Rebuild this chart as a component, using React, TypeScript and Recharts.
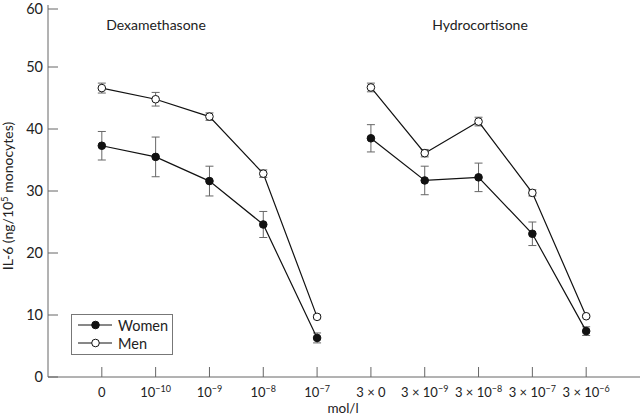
import { LineChart, Line, XAxis, YAxis, ErrorBar, Legend, Customized } from "recharts";

// concentration positions on the x axis (0-4 dexamethasone, 5-9 hydrocortisone)
const tickBase = ["0", "10", "10", "10", "10", "3 × 0", "3 × 10", "3 × 10", "3 × 10", "3 × 10"];
const tickExp = ["", "−10", "−9", "−8", "−7", "", "−9", "−8", "−7", "−6"];
const dexX = [0, 1, 2, 3, 4];
const hydX = [5, 6, 7, 8, 9];

const womenDex = [37.3, 35.5, 31.6, 24.6, 6.3];
const womenDexErr = [2.3, 3.2, 2.4, 2.1, 0.8];
const menDex = [46.6, 44.8, 42.0, 32.8, 9.7];
const menDexErr = [0.8, 1.1, 0.6, 0.6, 0.3];

const womenHyd = [38.5, 31.7, 32.2, 23.1, 7.4];
const womenHydErr = [2.2, 2.3, 2.3, 1.9, 0.7];
const menHyd = [46.7, 36.1, 41.2, 29.7, 9.8];
const menHydErr = [0.7, 0.6, 0.7, 0.5, 0.2];

const yTicks = [0, 10, 20, 30, 40, 50, 60];

const dexData = dexX.map((x, i) => ({
  x,
  women: womenDex[i],
  womenErr: womenDexErr[i],
  men: menDex[i],
  menErr: menDexErr[i],
}));
const hydData = hydX.map((x, i) => ({
  x,
  women: womenHyd[i],
  womenErr: womenHydErr[i],
  men: menHyd[i],
  menErr: menHydErr[i],
}));

const FONT = "Lato, 'DejaVu Sans', sans-serif";
const AXIS = "#666";

function YTick({ x, y, payload }: any) {
  return (
    <g>
      <line x1={x + 5} x2={x + 15} y1={y} y2={y} stroke={AXIS} />
      <text x={x} y={y} dy={5} textAnchor="end" fontSize={14.5} fill="#222" fontFamily={FONT}>
        {payload.value}
      </text>
    </g>
  );
}

function XTick({ x, y, payload }: any) {
  const i = payload.value as number;
  return (
    <g>
      <line x1={x} x2={x} y1={y - 15} y2={y - 25} stroke={AXIS} />
      <text x={x} y={y} dy={5} textAnchor="middle" fontSize={13} fill="#222" fontFamily={FONT}>
        {tickBase[i]}
        {tickExp[i] && (
          <tspan dy={-5} fontSize={9}>
            {tickExp[i]}
          </tspan>
        )}
      </text>
    </g>
  );
}

function Texts() {
  return (
    <g fontFamily={FONT} fill="#222">
      <text x={156} y={30} textAnchor="middle" fontSize={14}>Dexamethasone</text>
      <text x={480} y={30} textAnchor="middle" fontSize={14}>Hydrocortisone</text>
      <text x={343} y={413} textAnchor="middle" fontSize={13.5}>mol/l</text>
      <text transform="translate(13,196) rotate(-90)" textAnchor="middle" fontSize={14}>
        IL-6 (ng/10
        <tspan dy={-5} fontSize={9.5}>5</tspan>
        <tspan dy={5}> monocytes)</tspan>
      </text>
    </g>
  );
}

function LegendBox() {
  const row = (label: string, fill: string) => (
    <div style={{ display: "flex", alignItems: "center", height: 18 }}>
      <svg width={40} height={12}>
        <line x1={6} x2={41} y1={6} y2={6} stroke="#111" />
        <circle cx={23.5} cy={6} r={3.8} fill={fill} stroke="#111" />
      </svg>
      <span style={{ fontSize: 14.5, marginLeft: 6, color: "#222" }}>{label}</span>
    </div>
  );
  return (
    <div
      style={{
        width: 100,
        height: 38,
        border: "1px solid #777",
        background: "#fff",
        fontFamily: FONT,
        paddingTop: 1,
        boxSizing: "content-box",
      }}
    >
      {row("Women", "#111")}
      {row("Men", "#fff")}
    </div>
  );
}

export default function App() {
  return (
    <div style={{ position: "absolute", left: 0, top: 0, width: 640, height: 418, background: "#fff" }}>
      <LineChart width={640} height={418} margin={{ top: 5, right: 0, bottom: 0, left: 0 }}>
        <XAxis
          dataKey="x"
          type="number"
          domain={[-1, 10]}
          ticks={dexX.concat(hydX)}
          allowDataOverflow
          height={41}
          stroke={AXIS}
          tickLine={false}
          tickSize={0}
          tickMargin={15}
          tick={<XTick />}
        />
        <YAxis
          type="number"
          domain={[0, 60]}
          ticks={yTicks}
          width={48}
          stroke={AXIS}
          tickLine={false}
          tickSize={0}
          tickMargin={5}
          tick={<YTick />}
        />
        <Legend
          layout="horizontal"
          verticalAlign="middle"
          align="center"
          wrapperStyle={{ left: 71, top: 314, width: "auto" }}
          content={() => <LegendBox />}
        />
        <Line data={dexData} dataKey="women" stroke="#111" strokeWidth={1.2} isAnimationActive={false}
          dot={{ r: 3.8, fill: "#111", stroke: "#111", strokeWidth: 1 }}>
          <ErrorBar dataKey="womenErr" width={4} stroke="#666" strokeWidth={1} direction="y" />
        </Line>
        <Line data={dexData} dataKey="men" stroke="#111" strokeWidth={1.2} isAnimationActive={false}
          dot={{ r: 3.8, fill: "#fff", stroke: "#111", strokeWidth: 1 }}>
          <ErrorBar dataKey="menErr" width={4} stroke="#666" strokeWidth={1} direction="y" />
        </Line>
        <Line data={hydData} dataKey="women" stroke="#111" strokeWidth={1.2} isAnimationActive={false}
          dot={{ r: 3.8, fill: "#111", stroke: "#111", strokeWidth: 1 }}>
          <ErrorBar dataKey="womenErr" width={4} stroke="#666" strokeWidth={1} direction="y" />
        </Line>
        <Line data={hydData} dataKey="men" stroke="#111" strokeWidth={1.2} isAnimationActive={false}
          dot={{ r: 3.8, fill: "#fff", stroke: "#111", strokeWidth: 1 }}>
          <ErrorBar dataKey="menErr" width={4} stroke="#666" strokeWidth={1} direction="y" />
        </Line>
        <Customized component={<Texts />} />
      </LineChart>
    </div>
  );
}
